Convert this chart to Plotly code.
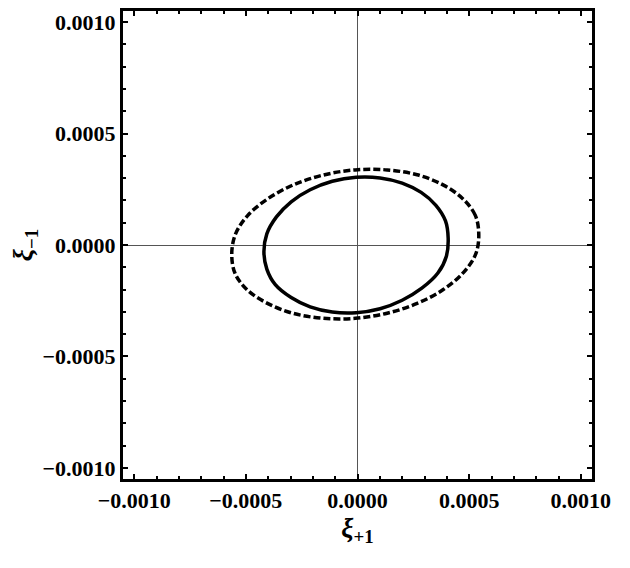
import plotly.graph_objects as go

# Contour points (units of 1e-4)
solid_x = [4.06, 3.94, 3.51, 2.85, 2.00, 1.01, -0.06, -1.13, -2.12, -2.97, -3.63, -4.06, -4.19,
           -4.06, -3.68, -2.97, -2.12, -1.13, -0.06, 1.01, 2.00, 2.88, 3.60, 3.98, 4.06]
solid_y = [0.30, 1.08, 1.78, 2.36, 2.78, 3.01, 3.04, 2.86, 2.48, 1.94, 1.26, 0.50, -0.30,
           -1.08, -1.78, -2.36, -2.78, -3.01, -3.04, -2.86, -2.48, -1.94, -1.26, -0.50, 0.30]

dashed_x = [5.43, 5.27, 4.69, 3.81, 2.67, 1.33, -0.10, -1.53, -2.87, -4.01, -4.92, -5.47, -5.63,
            -5.48, -4.93, -4.01, -2.87, -1.53, -0.10, 1.33, 2.67, 3.84, 4.74, 5.30, 5.43]
dashed_y = [0.49, 1.34, 2.10, 2.71, 3.15, 3.37, 3.37, 3.14, 2.70, 2.08, 1.32, 0.47, -0.41,
            -1.28, -2.02, -2.63, -3.07, -3.29, -3.29, -3.06, -2.62, -2.00, -1.24, -0.39, 0.49]

tick_vals = [-0.0010, -0.0005, 0.0, 0.0005, 0.0010]
tick_text = ["\u22120.0010", "\u22120.0005", "0.0000", "0.0005", "0.0010"]

scale = 1e-4
fig = go.Figure()
fig.add_trace(go.Scatter(x=[v * scale for v in dashed_x], y=[v * scale for v in dashed_y],
                         mode="lines", line=dict(color="black", width=3.5, dash="7px,3px", shape="spline"),
                         hoverinfo="skip"))
fig.add_trace(go.Scatter(x=[v * scale for v in solid_x], y=[v * scale for v in solid_y],
                         mode="lines", line=dict(color="black", width=3.5, shape="spline"),
                         hoverinfo="skip"))

serif = "Liberation Serif, Times New Roman, serif"
axis_common = dict(
    range=[-0.00105, 0.00105], showgrid=False,
    zeroline=True, zerolinecolor="#555555", zerolinewidth=1,
    showline=True, linecolor="black", linewidth=3, mirror="ticks",
    ticks="inside", ticklen=5, tickwidth=2, tickcolor="black",
    minor=dict(dtick=0.0001, ticks="inside", ticklen=3, tickwidth=2, tickcolor="black", showgrid=False),
    tickvals=tick_vals, ticktext=tick_text,
    tickfont=dict(family=serif, size=22, color="black", weight="bold"),
    automargin=False,
)
fig.update_xaxes(**axis_common,
                 title=dict(text="<b><i>ξ</i><sub>+1</sub></b>",
                            font=dict(family=serif, size=27, color="black"), standoff=6))
fig.update_yaxes(**axis_common,
                 title=dict(text="<b><i>ξ</i><sub>\u22121</sub></b>",
                            font=dict(family=serif, size=27, color="black"), standoff=12))

fig.update_layout(
    width=622, height=560,
    margin=dict(l=115, r=38, t=3, b=89),
    paper_bgcolor="white", plot_bgcolor="white",
    showlegend=False,
)
fig.write_html("out.html")
